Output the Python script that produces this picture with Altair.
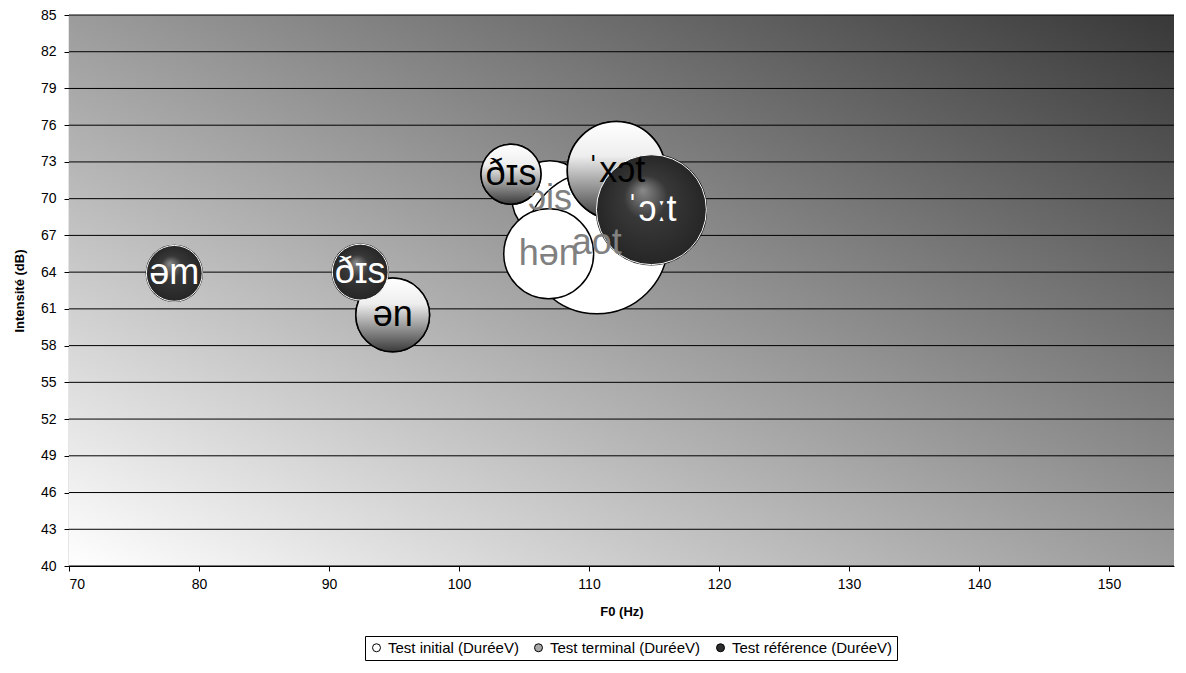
import altair as alt
import pandas as pd

series_names = ["Test initial (DuréeV)", "Test terminal (DuréeV)", "Test référence (DuréeV)"]

initial_labels = ["ɔis", "aot", "hən"]
initial_f0 = [107.0, 110.6, 106.9]
initial_db = [70.0, 66.4, 65.5]
initial_dur = [72, 252, 101]

terminal_labels = ["ən", "ðɪs", "ˈxɔt"]
terminal_f0 = [94.9, 104.0, 112.1]
terminal_db = [60.5, 72.0, 72.3]
terminal_dur = [68, 45, 120]

reference_labels = ["əm", "ðɪs", "ˈɔːt"]
reference_f0 = [78.1, 92.4, 114.8]
reference_db = [63.9, 64.0, 69.1]
reference_dur = [39, 39, 151]

x_ticks = [70, 80, 90, 100, 110, 120, 130, 140, 150]
y_ticks = [40, 43, 46, 49, 52, 55, 58, 61, 64, 67, 70, 73, 76, 79, 82, 85]
x_domain = [70, 155]
y_domain = [40, 85]

rows = []
for name, labs, f0s, dbs, durs in [
    (series_names[0], initial_labels, initial_f0, initial_db, initial_dur),
    (series_names[1], terminal_labels, terminal_f0, terminal_db, terminal_dur),
    (series_names[2], reference_labels, reference_f0, reference_db, reference_dur),
]:
    for l, f, d, u in zip(labs, f0s, dbs, durs):
        rows.append({"series": name, "label": l, "f0": f, "db": d, "dur": u})
df = pd.DataFrame(rows)

bg_df = pd.DataFrame([{"x0": x_domain[0], "x1": x_domain[1], "y0": y_domain[0], "y1": y_domain[1]}])
grid_df = pd.DataFrame({"v": y_ticks})

W, H = 1105, 551
FONT = "Liberation Sans"

xs = alt.Scale(domain=x_domain, nice=False, zero=False)
ys = alt.Scale(domain=y_domain, nice=False, zero=False)
ss = alt.Scale(domain=[0, 252], range=[0, 20164])

x_axis = alt.Axis(values=x_ticks, title="F0 (Hz)", labelPadding=6, titlePadding=14, tickSize=5)
y_axis = alt.Axis(values=y_ticks, title="Intensité (dB)", labelPadding=8, titlePadding=14, tickSize=5)

bg = alt.Chart(bg_df).mark_rect(
    fill={"gradient": "linear", "x1": 0, "y1": 1, "x2": 1, "y2": 0,
          "stops": [{"offset": 0, "color": "#ffffff"}, {"offset": 1, "color": "#383838"}]},
).encode(
    x=alt.X("x0:Q", scale=xs, axis=x_axis),
    x2="x1:Q",
    y=alt.Y("y0:Q", scale=ys, axis=y_axis),
    y2="y1:Q",
)

grid = alt.Chart(grid_df).mark_rule(color="#000000", strokeWidth=1).encode(
    y=alt.Y("v:Q", scale=ys, axis=y_axis)
)

base = alt.Chart(df).mark_circle(opacity=1, stroke="black", strokeWidth=1.5).encode(
    x=alt.X("f0:Q", scale=xs, axis=x_axis),
    y=alt.Y("db:Q", scale=ys, axis=y_axis),
    size=alt.Size("dur:Q", scale=ss, legend=None),
    fill=alt.Fill("series:N", scale=alt.Scale(domain=series_names, range=["#ffffff", "#a8a8a8", "#2e2e2e"]),
                  legend=alt.Legend(orient="none", legendX=296, legendY=621, direction="horizontal",
                                    title=None, strokeColor="black", padding=4, symbolType="circle",
                                    symbolSize=64, symbolStrokeColor="black", symbolStrokeWidth=1,
                                    labelFont=FONT, labelFontSize=15, labelColor="black", labelLimit=400,
                                    columnPadding=12, labelOffset=4, symbolOpacity=1)),
)

term_layer = alt.Chart(df).transform_filter(
    alt.datum.series == series_names[1]
).mark_circle(
    opacity=1, stroke="black", strokeWidth=1.5,
    fill={"gradient": "linear", "x1": 0.5, "y1": 0, "x2": 0.5, "y2": 1,
          "stops": [{"offset": 0, "color": "#ffffff"}, {"offset": 0.35, "color": "#eeeeee"},
                    {"offset": 1, "color": "#3a3a3a"}]},
).encode(
    x=alt.X("f0:Q", scale=xs, axis=x_axis),
    y=alt.Y("db:Q", scale=ys, axis=y_axis),
    size=alt.Size("dur:Q", scale=ss, legend=None),
)

ref_layer = alt.Chart(df).transform_filter(
    alt.datum.series == series_names[2]
).mark_circle(
    opacity=1, stroke="white", strokeWidth=1,
    fill={"gradient": "radial", "x1": 0.42, "y1": 0.32, "r1": 0, "x2": 0.5, "y2": 0.5, "r2": 0.5,
          "stops": [{"offset": 0, "color": "#8a8a8a"}, {"offset": 0.4, "color": "#383838"},
                    {"offset": 1, "color": "#262626"}]},
).encode(
    x=alt.X("f0:Q", scale=xs, axis=x_axis),
    y=alt.Y("db:Q", scale=ys, axis=y_axis),
    size=alt.Size("dur:Q", scale=ss, legend=None),
)

labels = alt.Chart(df).mark_text(font=FONT, fontSize=36, align="center", baseline="middle").encode(
    x=alt.X("f0:Q", scale=xs, axis=x_axis),
    y=alt.Y("db:Q", scale=ys, axis=y_axis),
    text="label:N",
    color=alt.Color("series:N", scale=alt.Scale(domain=series_names, range=["#808080", "#000000", "#ffffff"]),
                    legend=None),
)

chart = alt.layer(bg, grid, base, term_layer, ref_layer, labels).properties(
    width=W, height=H,
    padding={"left": 61, "top": 7, "right": 4, "bottom": 98},
    autosize=alt.AutoSizeParams(type="none"),
    background="white",
).configure_view(stroke=None).configure_axis(
    domainColor="black", domainWidth=1.2, tickColor="black", labelColor="black", titleColor="black",
    labelFont=FONT, labelFontSize=14, titleFont=FONT, titleFontSize=13, titleFontWeight="bold", grid=False,
)

chart.save("out.html", embed_options={"renderer": "svg", "actions": False})
